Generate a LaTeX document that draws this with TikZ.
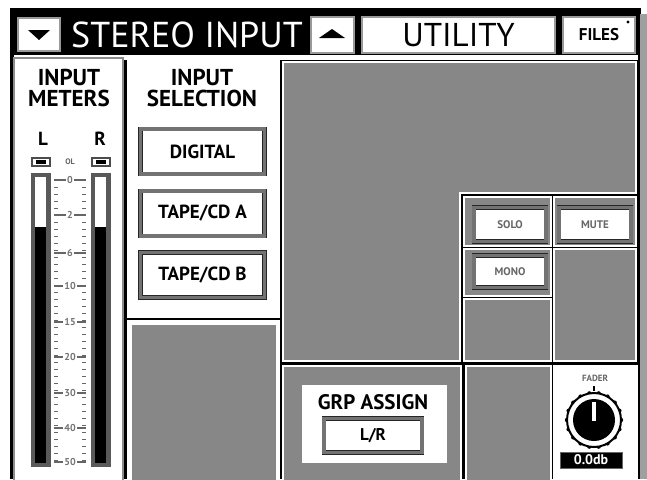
\documentclass[tikz,border=0pt]{standalone}
\usepackage{fontspec}
\setmainfont{PT Sans}
\usetikzlibrary{positioning}
\definecolor{pgray}{gray}{0.53}
\definecolor{dgray}{gray}{0.35}
\tikzset{
  cell/.style = {fill=pgray, draw=white, line width=1pt},
  wcell/.style = {fill=white, draw=black!45, line width=1pt},
  tbox/.style = {fill=white, draw=black!40, line width=0.6pt, inner sep=0, rectangle},
  btn/.style = {rectangle, fill=white, draw=black!85, line width=0.4pt, double=black!55,
    double distance=1.6pt, inner sep=0},
  hdr/.style = {inner sep=0, font=\fontsize{18}{18}\selectfont},
  lbl/.style = {inner sep=0, align=center, font=\fontsize{11.5}{10.5}\selectfont\bfseries},
  btxt/.style = {font=\fontsize{9.5}{10}\selectfont\bfseries},
  small/.style = {inner sep=0, text=black!60, font=\fontsize{5.5}{6}\selectfont\bfseries},
  scl/.style = {inner sep=0.5pt, fill=white, text=black!55, font=\fontsize{5}{5}\selectfont\bfseries}
}

\begin{document}
\begin{tikzpicture}[x=0.5pt, y=-0.5pt]
  \useasboundingbox (0,0) rectangle (647,479);
  \fill[white] (0,0) rectangle (647,479);
  \fill[black] (10,8) rectangle (641,479);
  \fill[pgray!80] (640,14) rectangle (647,479);
  \fill[white] (14,55) rectangle (638,60);

  \node (dn) [tbox, minimum width=21pt, minimum height=16.5pt] at (39,34.5) {};
  \fill (28,30) -- (50,30) -- (39,40) -- cycle;
  \node (title) [hdr, text=white] at (187,35) {STEREO INPUT};
  \node (up) [tbox, minimum width=21.5pt, minimum height=18pt] at (332.5,35) {};
  \fill (319,38) -- (345,38) -- (332,29) -- cycle;
  \node (util) [tbox, hdr, font=\fontsize{16.5}{18}\selectfont, minimum width=96.5pt,
    minimum height=18pt] at (458.5,35) {UTILITY};
  \node (files) [tbox, minimum width=36pt, minimum height=18pt,
    font=\fontsize{8.5}{9}\selectfont\bfseries] at (599,35) {FILES\hspace{5pt}};
  \fill (628,22) circle (1.6);

  \filldraw[wcell] (14,58) rectangle (123,482);
  \fill[white] (127,58) rectangle (280,318);
  \fill[white] (127,320) rectangle (280,482);
  \filldraw[cell] (131,324) rectangle (277,482);
  \filldraw[cell] (283,62) -- (636,62) -- (636,193) -- (460,193) -- (460,361) -- (283,361) -- cycle;
  \filldraw[cell] (464,197) rectangle (551,246);
  \filldraw[cell] (554,197) rectangle (636,246);
  \filldraw[cell] (464,249) rectangle (551,296);
  \filldraw[cell] (464,299) rectangle (551,361);
  \filldraw[cell] (554,249) rectangle (636,361);
  \filldraw[cell] (283,366) rectangle (461,482);
  \filldraw[cell] (466,366) rectangle (551,482);
  \filldraw[cell, fill=white] (554,366) rectangle (637,482);

  \node (meters) [lbl] at (69,88) {INPUT\\METERS};
  \node (sel) [lbl] at (202,88) {INPUT\\SELECTION};
  \node (lch) [lbl, font=\fontsize{9.5}{10}\selectfont\bfseries] at (43,139) {L};
  \node (rch) [lbl, font=\fontsize{9.5}{10}\selectfont\bfseries] at (100,139) {R};

  \foreach \x in {32,92} {
    \draw[black!70, line width=0.6pt] (\x,158) rectangle (\x+18,166);
    \fill (\x+4,160) rectangle (\x+14,164);
    \fill[dgray] (\x-1,173) rectangle (\x+19,467);
    \fill[white] (\x+3,177) rectangle (\x+14,227);
    \fill[black] (\x+3,227) rectangle (\x+14,463);
  }
  \node (ol) [small, font=\fontsize{4}{4}\selectfont\bfseries] at (70,162) {OL};
  \foreach \y in {180,187,...,462} {
    \draw[black!60, line width=0.5pt] (54,\y) -- (58,\y);
    \draw[black!60, line width=0.5pt] (82,\y) -- (86,\y);
  }
  \foreach \y/\l in {180/0,215/2,253/6,286/10,322/15,357/20,393/30,428/40,462/50} {
    \draw[black!60, line width=0.6pt] (54,\y) -- (86,\y);
    \node (s\l) [scl] at (70,\y) {\l};
  }

  \node (dig) [btn, btxt, minimum width=62pt, minimum height=22.5pt] at (202.5,151.5) {DIGITAL};
  \node (tpa) [btn, btxt, minimum width=62pt, minimum height=22.5pt] at (202.5,213.5) {TAPE/CD A};
  \node (tpb) [btn, btxt, minimum width=62pt, minimum height=22.5pt] at (202.5,275) {TAPE/CD B};

  \node (solo) [btn, small, minimum width=36pt, minimum height=17pt] at (510,224.5) {SOLO};
  \node (mute) [btn, small, minimum width=36pt, minimum height=17pt] at (595,224.5) {MUTE};
  \node (mono) [btn, small, minimum width=36pt, minimum height=16pt] at (510,271.5) {MONO};

  \fill[white] (302,385) rectangle (447,463);
  \node (grp) [lbl, font=\fontsize{10.5}{11}\selectfont\bfseries] at (373,402) {GRP ASSIGN};
  \node (lr) [btn, font=\fontsize{8.5}{9}\selectfont\bfseries, minimum width=49pt,
    minimum height=17pt] at (373,435.5) {L/R};

  \node (fader) [small, font=\fontsize{4.5}{5}\selectfont\bfseries] at (595,378) {FADER};
  \draw[black, line width=0.8pt] (594,386) -- (594,391);
  \foreach \a in {0,20,...,340}
    \fill (594,420) ++(\a:27) circle (2.2);
  \filldraw[fill=white, draw=black, line width=1pt] (594,420) circle (27);
  \fill (594,420) circle (21);
  \fill[white] (592,402) rectangle (596,421);
  \node (db) [fill=black, draw=black!60, line width=0.5pt, text=white, inner sep=0,
    minimum width=31pt, minimum height=8pt, font=\fontsize{7}{7}\selectfont\bfseries]
    at (591,460) {0.0db};
\end{tikzpicture}
\end{document}
